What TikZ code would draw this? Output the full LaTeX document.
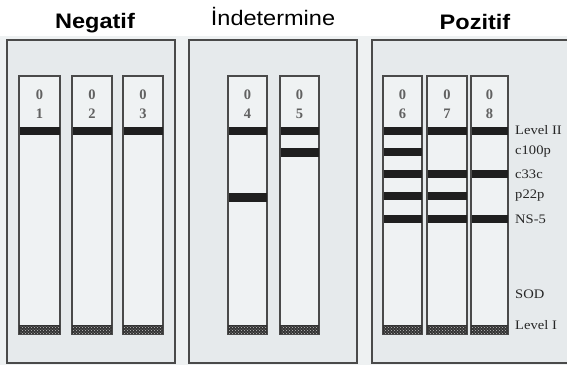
\documentclass[tikz,border=0pt]{standalone}
\usepackage{fontspec}
\setmainfont{Liberation Serif}
\newfontfamily\titlefont{Liberation Sans}
\usetikzlibrary{patterns}
\definecolor{bgc}{HTML}{EEF1F2}
\definecolor{panelc}{HTML}{E6EAEC}
\definecolor{stripc}{HTML}{EFF2F3}
\definecolor{edgec}{HTML}{4A4A4A}
\tikzset{
  panel/.style={draw=edgec, line width=1.2pt, fill=panelc},
  stripbox/.style={draw=edgec, line width=1.1pt, fill=stripc},
  band/.style={fill=black!88},
  numtxt/.style={font=\bfseries\fontsize{14.5}{14.5}\selectfont, text=black!62, inner sep=0pt},
  lbl/.style={font=\fontsize{13}{13}\selectfont, text=black!85, anchor=west, inner sep=0pt, xscale=1.12},
  ttl/.style={font=\titlefont\fontsize{21}{21}\selectfont\bfseries, anchor=base, inner sep=0pt, xscale=1.12},
}
\begin{document}
\begin{tikzpicture}[x=1pt,y=-1pt]
\useasboundingbox (0,0) rectangle (567,365);
\clip (0,0) rectangle (567,365);
\fill[white] (0,0) rectangle (567,365);
\fill[bgc] (0,36) rectangle (567,365);
% panels
\draw[panel] (7,40) rectangle (175,363);
\draw[panel] (189,40) rectangle (357,363);
\draw[panel] (372,40) rectangle (580,363);
% titles
\node[ttl] (t1) at (95,28) {Negatif};
\node[ttl, font=\titlefont\fontsize{21}{21}\selectfont] (t2) at (273,25) {İndetermine};
\node[ttl] (t3) at (475,29) {Pozitif};
% strips: name / left / right / label
\foreach \n/\l/\r/\d in {s1/19/60/1, s2/72/112/2, s3/123/163/3, s4/228/267/4, s5/280/319/5, s6/383/422/6, s7/427/467/7, s8/471/508/8}{
  \draw[stripbox] (\l,76) rectangle (\r,334);
  \fill[black!80] (\l,325) rectangle (\r,334);
  \fill[pattern=crosshatch dots, pattern color=white!75!black] (\l+1,326) rectangle (\r-1,333);
  \node[numtxt] (\n a) at ({(\l+\r)/2},95) {0};
  \node[numtxt] (\n b) at ({(\l+\r)/2},114) {\d};
  \fill[band] (\l+0.5,127) rectangle (\r-0.5,135);
}
% extra bands
\fill[band] (228.5,193) rectangle (266.5,202);
\fill[band] (280.5,148) rectangle (318.5,157);
\foreach \l/\r in {383/422}{\fill[band] (\l+0.5,148) rectangle (\r-0.5,156);}
\foreach \l/\r in {383/422, 427/467, 471/508}{\fill[band] (\l+0.5,170) rectangle (\r-0.5,178);}
\foreach \l/\r in {383/422, 427/467}{\fill[band] (\l+0.5,192) rectangle (\r-0.5,200);}
\foreach \l/\r in {383/422, 427/467, 471/508}{\fill[band] (\l+0.5,215) rectangle (\r-0.5,223);}
% labels
\node[lbl] (l1) at (515,130) {Level II};
\node[lbl] (l2) at (515,152) {c100p};
\node[lbl] (l3) at (515,174) {c33c};
\node[lbl] (l4) at (515,196) {p22p};
\node[lbl] (l5) at (515,219) {NS-5};
\node[lbl] (l6) at (515,294) {SOD};
\node[lbl] (l7) at (515,325) {Level I};
\end{tikzpicture}
\end{document}
